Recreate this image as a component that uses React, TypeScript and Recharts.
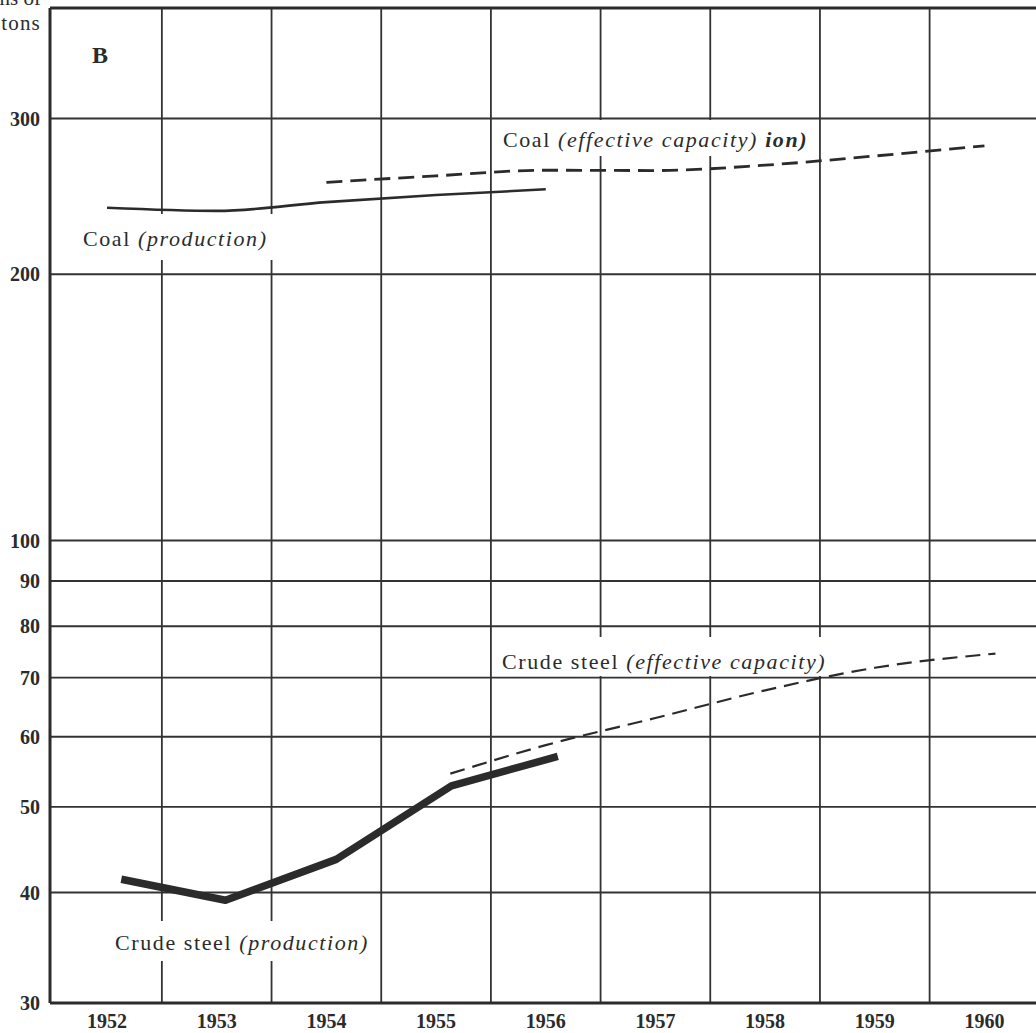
import React from 'react';
import { LineChart, Line, XAxis, YAxis, CartesianGrid, ReferenceLine } from 'recharts';

// ---- data ----
const yearLabels = [1952, 1953, 1954, 1955, 1956, 1957, 1958, 1959, 1960];
const yearBoundaries = [1952.5, 1953.5, 1954.5, 1955.5, 1956.5, 1957.5, 1958.5, 1959.5];
const valueTicks = [30, 40, 50, 60, 70, 80, 90, 100, 200, 300];
const valueGrid = [40, 50, 60, 70, 80, 90, 100, 200, 300];

const coalProductionYears = [1952, 1953, 1954, 1955, 1956];
const coalProductionValues = [237.8, 235.9, 241.3, 245.8, 249.5];

const coalCapacityYears = [1954, 1955, 1956, 1957, 1958, 1959, 1960];
const coalCapacityValues = [254, 258.4, 262.2, 262.0, 265.7, 272.1, 279.4];

const steelProductionYears = [1952.13, 1953.08, 1954.09, 1955.14, 1956.11];
const steelProductionValues = [41.4, 39.2, 43.6, 52.8, 57.0];

const steelCapacityYears = [1955.13, 1956, 1957, 1958, 1959, 1960.1];
const steelCapacityValues = [54.5, 58.7, 63.0, 67.7, 71.8, 74.5];

const toRows = (xs: number[], vs: number[]) => xs.map((x, i) => ({ year: x, value: vs[i] }));

const coalProduction = toRows(coalProductionYears, coalProductionValues);
const coalCapacity = toRows(coalCapacityYears, coalCapacityValues);
const steelProduction = toRows(steelProductionYears, steelProductionValues);
const steelCapacity = toRows(steelCapacityYears, steelCapacityValues);

const INK = '#2b2b2b';
const SERIF = '"Liberation Serif", "Times New Roman", serif';

const tickStyle = { fontFamily: SERIF, fontSize: 20, fontWeight: 700, fill: INK };
const labelStyle: React.CSSProperties = { fontFamily: SERIF, fontSize: 22, letterSpacing: 1.6, fill: INK } as any;

export default function App() {
  return (
    <div style={{ position: 'absolute', left: 0, top: 0, width: 1036, height: 1033, background: '#fff' }}>
      <LineChart width={1036} height={1033} margin={{ top: 8, right: 0, bottom: 0, left: 0 }}>
        <CartesianGrid
          stroke="#333"
          strokeWidth={1.8}
          horizontalValues={valueGrid}
          verticalValues={yearBoundaries}
        />
        <XAxis
          type="number"
          dataKey="year"
          domain={[1951.48, 1960.47]}
          allowDataOverflow
          ticks={yearLabels}
          interval={0}
          height={30}
          tickLine={false}
          tickSize={0}
          tickMargin={11}
          axisLine={{ stroke: INK, strokeWidth: 3 }}
          tick={tickStyle}
        />
        <YAxis
          type="number"
          dataKey="value"
          scale="log"
          domain={[30, 400]}
          allowDataOverflow
          ticks={valueTicks}
          interval={0}
          width={50}
          tickLine={false}
          tickSize={0}
          tickMargin={10}
          axisLine={{ stroke: INK, strokeWidth: 3 }}
          tick={tickStyle}
        />
        <ReferenceLine y={400} stroke={INK} strokeWidth={3} ifOverflow="visible" />
        <Line
          data={coalProduction}
          dataKey="value"
          type="monotone"
          stroke={INK}
          strokeWidth={2.6}
          dot={false}
          activeDot={false}
          isAnimationActive={false}
        />
        <Line
          data={coalCapacity}
          dataKey="value"
          type="monotone"
          stroke={INK}
          strokeWidth={2.8}
          strokeDasharray="16 8"
          dot={false}
          activeDot={false}
          isAnimationActive={false}
        />
        <Line
          data={steelProduction}
          dataKey="value"
          type="linear"
          stroke={INK}
          strokeWidth={7.5}
          strokeLinejoin="round"
          dot={false}
          activeDot={false}
          isAnimationActive={false}
        />
        <Line
          data={steelCapacity}
          dataKey="value"
          type="monotone"
          stroke={INK}
          strokeWidth={2.2}
          strokeDasharray="15 8"
          dot={false}
          activeDot={false}
          isAnimationActive={false}
        />
      </LineChart>
      <svg
        width={1036}
        height={1033}
        style={{ position: 'absolute', left: 0, top: 0, pointerEvents: 'none', overflow: 'visible' }}
      >
        {/* white boxes behind the series labels (break the grid lines) */}
        <rect x={494} y={120} width={322} height={36} fill="#fff" />
        <rect x={76} y={214} width={198} height={46} fill="#fff" />
        <rect x={495} y={637} width={331} height={39} fill="#fff" />
        <rect x={110} y={921} width={268} height={40} fill="#fff" />

        <text x={41} y={5} textAnchor="end" style={{ fontFamily: SERIF, fontSize: 21, fill: INK }}>Millions of</text>
        <text x={41} y={30} textAnchor="end" style={{ fontFamily: SERIF, fontSize: 21, letterSpacing: 1.2, fill: INK }}>tons</text>
        <text x={92} y={63} style={{ fontFamily: SERIF, fontSize: 24, fontWeight: 700, fill: INK }}>B</text>

        <text x={503} y={147} style={labelStyle}>
          Coal <tspan fontStyle="italic">(effective capacity)</tspan> <tspan fontWeight={700} fontStyle="italic">ion)</tspan>
        </text>
        <text x={83} y={246} style={labelStyle}>
          Coal <tspan fontStyle="italic">(production)</tspan>
        </text>
        <text x={502} y={669} style={labelStyle}>
          Crude steel <tspan fontStyle="italic">(effective capacity)</tspan>
        </text>
        <text x={115} y={950} style={labelStyle}>
          Crude steel <tspan fontStyle="italic">(production)</tspan>
        </text>
      </svg>
    </div>
  );
}
